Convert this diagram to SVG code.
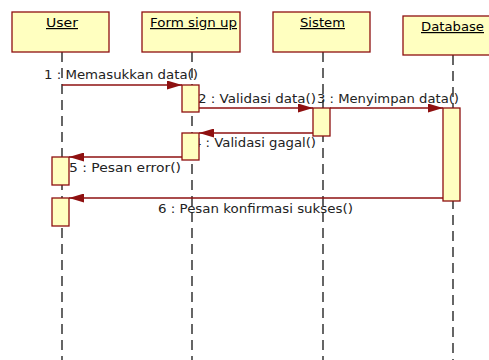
<svg xmlns="http://www.w3.org/2000/svg" width="489" height="360" viewBox="0 0 489 360">
<defs>
<style>
.box{fill:#FFFFC0;stroke:#8E1010;stroke-width:1.3}
.act{fill:#FFFFC0;stroke:#8E1010;stroke-width:1.3}
.life{stroke:#000;stroke-width:1.2;stroke-dasharray:10 6;fill:none}
.msg{stroke:#8E1010;stroke-width:1.3;fill:none;marker-end:url(#ah)}
.lbl{font-family:"DejaVu Sans",sans-serif;font-size:12px;fill:#222}
.ttl{font-family:"DejaVu Sans",sans-serif;font-size:12px;fill:#000;text-decoration:underline}
</style>
<marker id="ah" markerWidth="15" markerHeight="9" refX="15" refY="4.5" orient="auto" markerUnits="userSpaceOnUse">
<path d="M0,0 L15,4.5 L0,9 Z" fill="#8E1010"/>
</marker>
</defs>
<g id="lifelines">
<line class="life" x1="62" y1="52" x2="62" y2="360"/>
<line class="life" x1="192" y1="52" x2="192" y2="360"/>
<line class="life" x1="323" y1="52" x2="323" y2="360"/>
<line class="life" x1="453" y1="55" x2="453" y2="360"/>
</g>
<g id="user">
<rect class="box" x="12" y="12" width="97" height="40"/>
<text class="ttl" x="46" y="27" textLength="32" lengthAdjust="spacingAndGlyphs">User</text>
</g>
<g id="form">
<rect class="box" x="142" y="12" width="98" height="40"/>
<text class="ttl" x="150" y="27" textLength="87" lengthAdjust="spacingAndGlyphs">Form sign up</text>
</g>
<g id="sistem">
<rect class="box" x="273" y="12" width="97" height="40"/>
<text class="ttl" x="300" y="27" textLength="45" lengthAdjust="spacingAndGlyphs">Sistem</text>
</g>
<g id="database">
<rect class="box" x="403" y="16" width="100" height="39"/>
<text class="ttl" x="421" y="31" textLength="63" lengthAdjust="spacingAndGlyphs">Database</text>
</g>
<g id="connectors">
<line class="msg" x1="62" y1="85" x2="182" y2="85"/>
<text class="lbl" x="44" y="79" textLength="154" lengthAdjust="spacingAndGlyphs">1 : Memasukkan data()</text>
<line class="msg" x1="199" y1="108" x2="313" y2="108"/>
<text class="lbl" x="198" y="103" textLength="118" lengthAdjust="spacingAndGlyphs">2 : Validasi data()</text>
<line class="msg" x1="330" y1="108" x2="443" y2="108"/>
<text class="lbl" x="317" y="103" textLength="142" lengthAdjust="spacingAndGlyphs">3 : Menyimpan data()</text>
<line class="msg" x1="313" y1="133" x2="199" y2="133"/>
<text class="lbl" x="193" y="147" textLength="123" lengthAdjust="spacingAndGlyphs">4 : Validasi gagal()</text>
<line class="msg" x1="182" y1="157" x2="69" y2="157"/>
<text class="lbl" x="69" y="172" textLength="112" lengthAdjust="spacingAndGlyphs">5 : Pesan error()</text>
<line class="msg" x1="443" y1="198" x2="69" y2="198"/>
<text class="lbl" x="158" y="213" textLength="195" lengthAdjust="spacingAndGlyphs">6 : Pesan konfirmasi sukses()</text>
</g>
<g id="activations">
<rect class="act" x="182" y="85" width="17" height="27"/>
<rect class="act" x="313" y="108" width="17" height="28"/>
<rect class="act" x="443" y="108" width="17" height="93"/>
<rect class="act" x="182" y="133" width="17" height="27"/>
<rect class="act" x="52" y="157" width="17" height="28"/>
<rect class="act" x="52" y="198" width="17" height="28"/>
</g>
</svg>
